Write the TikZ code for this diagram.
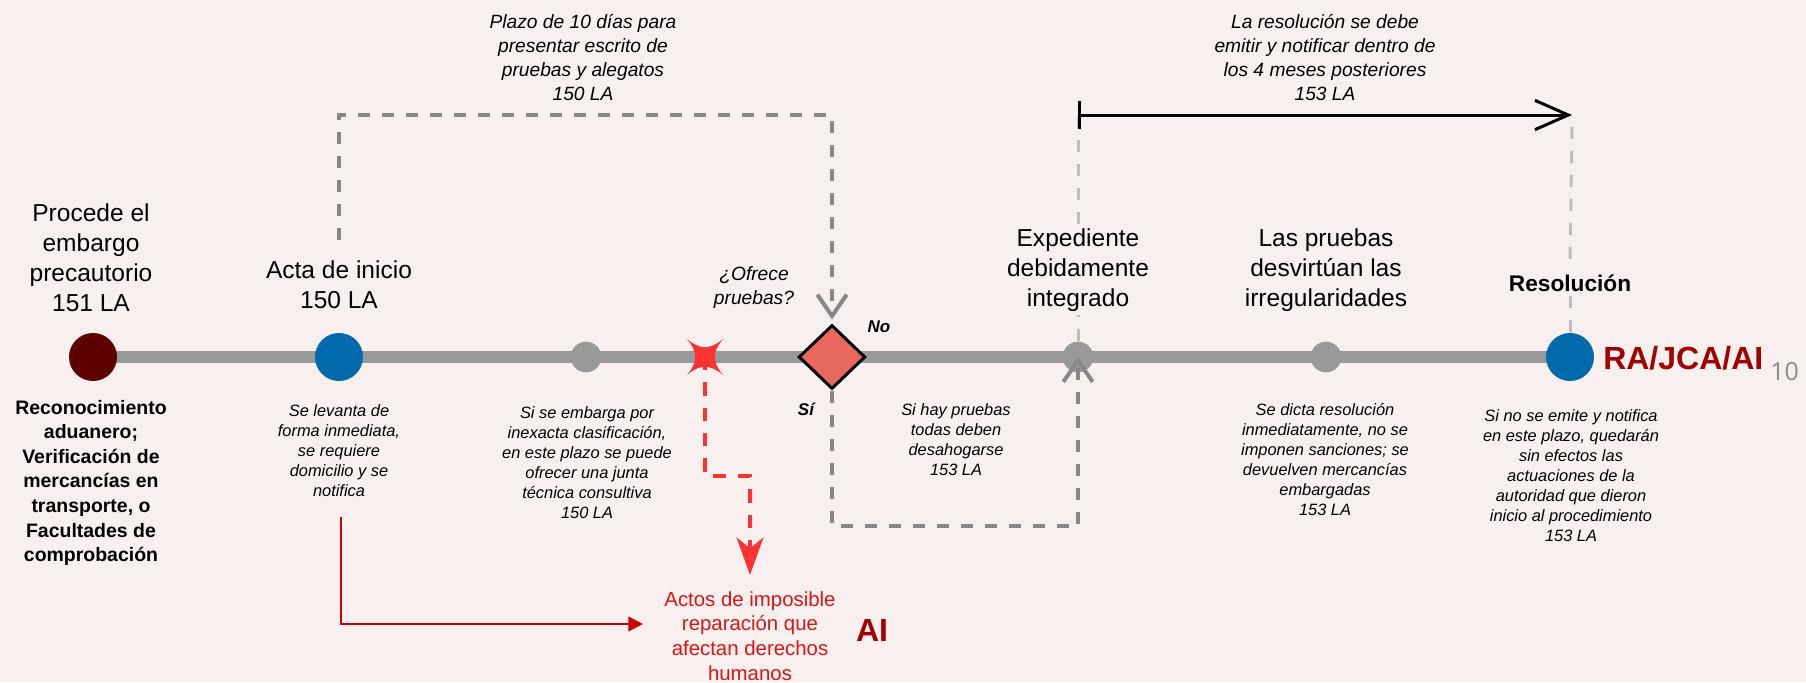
\documentclass[tikz,border=0pt]{standalone}
\usepackage{fontspec}
\setmainfont{Liberation Sans}
\newfontfamily\pagefont{Open Sans}
\usetikzlibrary{arrows.meta,shapes.geometric}
\definecolor{bgbase}{HTML}{F7F0EF}
\definecolor{darkred}{HTML}{5E0000}
\definecolor{tlblue}{HTML}{006AAD}
\definecolor{tlgray}{HTML}{999999}
\definecolor{dashgray}{HTML}{888888}
\definecolor{ltdash}{HTML}{BDBDBD}
\definecolor{diafill}{HTML}{E8675F}
\definecolor{starred}{HTML}{FF3333}
\definecolor{arrowred}{HTML}{CC0000}
\definecolor{textred}{HTML}{DD1515}
\definecolor{labelred}{HTML}{A00000}
\definecolor{pagegray}{HTML}{8C8C8C}
\begin{document}
\begin{tikzpicture}[x=0.75pt,y=-0.75pt,
  event/.style={circle, minimum size=36pt, inner sep=0pt},
  minor/.style={circle, fill=tlgray, minimum size=23pt, inner sep=0pt},
  mainlabel/.style={align=center, font=\fontsize{18.4}{22.5}\selectfont, inner sep=0pt},
  boldnote/.style={align=center, font=\bfseries\fontsize{14.6}{18.4}\selectfont, inner sep=0pt},
  smallnote/.style={align=center, font=\itshape\fontsize{12.3}{15}\selectfont, inner sep=0pt},
  topnote/.style={align=center, font=\itshape\fontsize{14.4}{18}\selectfont, inner sep=0pt},
  rednote/.style={align=center, font=\fontsize{15.3}{18.5}\selectfont, text=textred, inner sep=0pt},
  bigred/.style={font=\bfseries\fontsize{24}{27}\selectfont, text=labelred, inner sep=0pt},
  pagestyle/.style={font=\pagefont\fontsize{18.75}{22}\selectfont, text=pagegray, inner sep=0pt},
  yesno/.style={font=\bfseries\itshape\fontsize{12.75}{15}\selectfont, inner sep=0pt},
  resstyle/.style={font=\bfseries\fontsize{17}{20}\selectfont, inner sep=0pt},
  graydash/.style={draw=dashgray, line width=3pt, dash pattern=on 9pt off 9pt},
  lightdash/.style={draw=ltdash, line width=2.25pt, dash pattern=on 9pt off 9pt},
  reddash/.style={draw=starred, line width=3pt, dash pattern=on 10pt off 9pt},
  openhead/.style={-{Straight Barb[length=16pt,width=22pt]}}
]
\useasboundingbox (0,0) rectangle (1806,682);
\fill[bgbase] (0,0) rectangle (1806,682);

% timeline
\coordinate (tlstart) at (93,357);
\coordinate (tlend) at (1570,357);
\draw[tlgray, line width=9pt] (tlstart) -- (tlend);

% events
\node[event, fill=darkred] (embargo) at (93,357) {};
\node[event, fill=tlblue] (acta) at (339,357) {};
\node[minor] (plazo) at (586,357) {};
\coordinate (star) at (705,357);
\node[diamond, aspect=1, draw=black, line width=2.25pt, fill=diafill, minimum width=50pt, minimum height=48pt, inner sep=0pt] (dec) at (832,357) {};
\node[minor] (exp) at (1078,357) {};
\node[minor] (pru) at (1326,357) {};
\node[event, fill=tlblue] (res) at (1570,357) {};

% labels
\node[mainlabel, anchor=north] (embargolabel) at (91,203) {Procede el\\embargo\\precautorio\\151 LA};
\node[mainlabel, anchor=north] (actalabel) at (339,260) {Acta de inicio\\150 LA};
\node[topnote, anchor=north] (plazolabel) at (583,14) {Plazo de 10 días para\\presentar escrito de\\pruebas y alegatos\\150 LA};
\node[topnote, anchor=north] (ofrece) at (754,266) {¿Ofrece\\pruebas?};
\node[yesno] (nolabel) at (879,327) {No};
\node[yesno] (silabel) at (806,409) {Sí};
\node[mainlabel, anchor=north] (explabel) at (1078,228) {Expediente\\debidamente\\integrado};
\node[mainlabel, anchor=north] (prulabel) at (1326,228) {Las pruebas\\desvirtúan las\\irregularidades};
\node[resstyle, anchor=north] (reslabel) at (1570,275) {Resolución};
\node[topnote, anchor=north] (plazores) at (1325,14) {La resolución se debe\\emitir y notificar dentro de\\los 4 meses posteriores\\153 LA};
\node[boldnote, anchor=north] (recon) at (91,400) {Reconocimiento\\aduanero;\\Verificación de\\mercancías en\\transporte, o\\Facultades de\\comprobación};
\node[smallnote, anchor=north] (levanta) at (339,404) {Se levanta de\\forma inmediata,\\se requiere\\domicilio y se\\notifica};
\node[smallnote, anchor=north] (embarganote) at (587,406) {Si se embarga por\\inexacta clasificación,\\en este plazo se puede\\ofrecer una junta\\técnica consultiva\\150 LA};
\node[smallnote, anchor=north] (haynote) at (956,403) {Si hay pruebas\\todas deben\\desahogarse\\153 LA};
\node[smallnote, anchor=north] (dictanote) at (1325,403) {Se dicta resolución\\inmediatamente, no se\\imponen sanciones; se\\devuelven mercancías\\embargadas\\153 LA};
\node[smallnote, anchor=north] (emitenote) at (1571,409) {Si no se emite y notifica\\en este plazo, quedarán\\sin efectos las\\actuaciones de la\\autoridad que dieron\\inicio al procedimiento\\153 LA};
\node[rednote, anchor=north] (actos) at (750,591) {Actos de imposible\\reparación que\\afectan derechos\\humanos};
\node[bigred] (ailabel) at (872,630) {AI};
\node[bigred, anchor=west] (rajca) at (1603,358) {RA/JCA/AI};
\node[pagestyle, anchor=west] (pagenum) at (1770,372) {10};

% top dashed connector: Acta -> decision
\coordinate (topcorner) at (339,115);
\draw[graydash, openhead] ([yshift=15pt]actalabel.north) -- (topcorner) -| ([yshift=3pt]dec.north);
% bottom dashed connector: decision (Si) -> Expediente
\coordinate (botcorner) at (832,526);
\draw[graydash, openhead] (dec.south) -- (botcorner) -| (exp.center);

% light dashed guides
\coordinate (barstart) at (1078,115);
\coordinate (barend) at (1572,115);
\draw[lightdash] (exp.north) -- ([yshift=-3pt]explabel.south);
\draw[lightdash] ([yshift=3pt]explabel.north) -- (barstart);
\draw[lightdash] ([yshift=-9pt]barend) -- ([yshift=11pt]reslabel.north);
\draw[lightdash] ([yshift=-3pt]reslabel.south) -- (res.north);

% 4-month arrow
\draw[black, line width=2.25pt, {Bar[width=21pt]}-{Straight Barb[length=25pt,width=22pt]}] (barstart) -- (barend);

% red dashed from star to Actos
\coordinate (redcorner) at (705,476);
\draw[reddash, -{Stealth[length=28pt,width=20pt,inset=8pt]}] (star) -- (redcorner) -| ([yshift=12pt]actos.north);
\begin{scope}[shift={(star)}]
\fill[starred] (-18,-18) .. controls (-5,-7) and (5,-7) .. (18,-18) .. controls (7,-5) and (7,5) .. (18,18) .. controls (5,7) and (-5,7) .. (-18,18) .. controls (-7,5) and (-7,-5) .. (-18,-18) -- cycle;
\end{scope}

% red solid arrow from Acta note to Actos
\coordinate (redstart) at (341,517);
\coordinate (redtip) at (643,624);
\draw[arrowred, line width=1.5pt, -{Triangle[length=11pt,width=11pt]}] (redstart) |- (redtip);
\end{tikzpicture}
\end{document}
